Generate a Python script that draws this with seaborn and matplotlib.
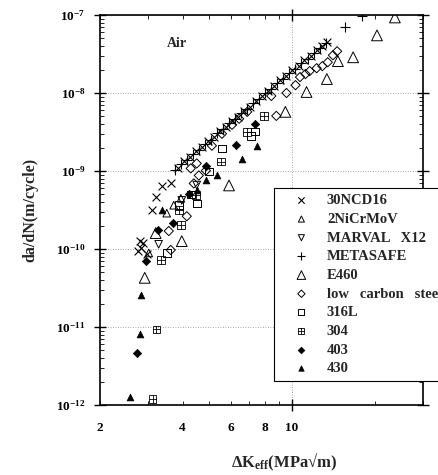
import matplotlib
matplotlib.use("Agg")
import matplotlib.pyplot as plt
import seaborn as sns
import numpy as np
from matplotlib.path import Path
from matplotlib.ticker import FixedLocator, FuncFormatter, LogLocator, LogFormatterSciNotation, NullFormatter

# ---------------- data ----------------
ncd16_x = [2.74, 2.79, 2.83, 2.88, 2.96, 3.08, 3.21, 3.37, 3.62, 3.84, 4.04, 4.25, 4.47, 4.70,
           4.94, 5.20, 5.47, 5.75, 6.05, 6.37, 6.70, 7.04, 7.41, 7.79, 8.20, 8.63, 9.07, 9.55,
           10.0, 10.6, 11.1, 11.7, 12.3, 12.9, 13.4]
ncd16_y = [9.43e-11, 1.26e-10, 1.03e-10, 1.19e-10, 8.63e-11, 3.14e-10, 4.59e-10, 6.35e-10, 6.93e-10,
           1.10e-9, 1.33e-9, 1.50e-9, 1.80e-9, 2.02e-9, 2.42e-9, 2.72e-9, 3.26e-9, 3.68e-9, 4.40e-9,
           4.95e-9, 5.92e-9, 6.70e-9, 7.98e-9, 9.05e-9, 1.07e-8, 1.22e-8, 1.45e-8, 1.64e-8, 1.96e-8,
           2.21e-8, 2.63e-8, 2.98e-8, 3.55e-8, 4.02e-8, 4.55e-8]

nicrmov_x = [3.01, 3.50, 3.71, 3.94]
nicrmov_y = [8.9e-11, 2.88e-10, 3.64e-10, 4.46e-10]

marval_x = [3.27, 3.97, 4.50]
marval_y = [1.15e-10, 4.2e-10, 6.6e-10]

metasafe_x = [3.74, 3.94, 4.14, 4.36, 4.58, 4.82, 5.07, 5.33, 5.61, 5.90, 6.21, 6.53, 6.87, 7.22,
              7.60, 7.99, 8.41, 8.84, 9.30, 9.78, 10.3, 10.8, 11.4, 12.0, 12.6, 13.3, 15.6, 18.0]
metasafe_y = [1.02e-9, 1.24e-9, 1.39e-9, 1.67e-9, 1.87e-9, 2.25e-9, 2.52e-9, 3.03e-9, 3.41e-9,
              4.08e-9, 4.60e-9, 5.50e-9, 6.21e-9, 7.42e-9, 8.38e-9, 9.95e-9, 1.12e-8, 1.34e-8,
              1.52e-8, 1.82e-8, 2.05e-8, 2.45e-8, 2.76e-8, 3.30e-8, 3.72e-8, 4.42e-8, 7.1e-8, 9.6e-8]

e460_x = [2.91, 3.19, 3.97, 5.90, 9.46, 11.3, 13.4, 14.7, 16.7, 20.4, 23.7]
e460_y = [4.27e-11, 1.60e-10, 1.26e-10, 6.53e-10, 5.73e-9, 1.03e-8, 1.51e-8, 2.56e-8, 2.87e-8,
          5.48e-8, 9.3e-8]

lcs_x = [3.56, 3.62, 4.14, 4.28, 4.39, 4.50, 4.58, 4.86, 5.11, 5.56, 6.05, 6.42, 6.87, 8.41, 8.77,
         9.55, 10.3, 10.7, 11.2, 11.6, 12.3, 12.9, 13.5, 14.1, 14.6]
lcs_y = [1.70e-10, 9.71e-11, 2.63e-10, 1.08e-9, 6.93e-10, 1.25e-9, 8.77e-10, 1.01e-9, 2.11e-9,
         3.0e-9, 3.91e-9, 4.67e-9, 5.73e-9, 9.16e-9, 5.09e-9, 1.0e-8, 1.26e-8, 1.60e-8, 1.75e-8,
         1.91e-8, 2.08e-8, 2.21e-8, 2.48e-8, 3.05e-8, 3.43e-8]

s316l_x = [3.50, 3.87, 4.28, 4.50, 4.99, 5.56, 7.10, 7.35]
s316l_y = [8.9e-11, 3.64e-10, 5.02e-10, 3.85e-10, 9.86e-10, 1.94e-9, 2.83e-9, 3.2e-9]

s304_x = [3.11, 3.21, 3.33, 3.94, 3.87, 4.47, 5.52, 6.87, 7.93]
s304_y = [1.19e-12, 9.29e-12, 7.24e-11, 2.02e-10, 3.14e-10, 4.88e-10, 1.32e-9, 3.18e-9, 5.09e-9]

s403_x = [2.72, 2.93, 3.24, 3.68, 4.21, 4.86, 6.26, 7.35]
s403_y = [4.59e-12, 7.03e-11, 1.75e-10, 2.14e-10, 5.02e-10, 1.17e-9, 2.18e-9, 4.03e-9]

s430_x = [2.58, 2.79, 2.83, 3.35, 4.50, 4.86, 5.33, 6.59, 7.47]
s430_y = [1.26e-12, 8.02e-12, 2.59e-11, 3.14e-10, 5.65e-10, 7.57e-10, 8.77e-10, 1.44e-9, 2.11e-9]

x_labels_at = [2, 4, 6, 8]

# ---------------- style ----------------
sns.set_style("ticks")
plt.rcParams["font.family"] = ["Liberation Serif", "DejaVu Serif"]
plt.rcParams["font.weight"] = "bold"
plt.rcParams["axes.labelweight"] = "bold"
plt.rcParams["mathtext.fontset"] = "custom"
plt.rcParams["mathtext.rm"] = "Liberation Serif:bold"
plt.rcParams["mathtext.bf"] = "Liberation Serif:bold"
plt.rcParams["mathtext.it"] = "Liberation Serif:bold"
plt.rcParams["mathtext.default"] = "rm"

fig = plt.figure(figsize=(4.39, 4.75), dpi=100)
ax = fig.add_axes([100 / 439, 1 - 405 / 475, 323 / 439, 390 / 475])

# square-with-cross marker
box_plus = Path(
    [(-1, -1), (1, -1), (1, 1), (-1, 1), (-1, -1), (0, -1), (0, 1), (-1, 0), (1, 0)],
    [Path.MOVETO, Path.LINETO, Path.LINETO, Path.LINETO, Path.CLOSEPOLY,
     Path.MOVETO, Path.LINETO, Path.MOVETO, Path.LINETO])

series = [
    ("30NCD16", ncd16_x, ncd16_y, dict(marker="x", s=32, color="black", linewidth=0.8)),
    ("2NiCrMoV", nicrmov_x, nicrmov_y, dict(marker="^", s=30, facecolor="none", edgecolor="black", linewidth=0.7)),
    ("MARVAL   X12", marval_x, marval_y, dict(marker="v", s=30, facecolor="none", edgecolor="black", linewidth=0.7)),
    ("METASAFE", metasafe_x, metasafe_y, dict(marker="+", s=42, color="black", linewidth=0.8)),
    ("E460", e460_x, e460_y, dict(marker="^", s=60, facecolor="none", edgecolor="black", linewidth=0.7)),
    ("low   carbon   steel", lcs_x, lcs_y, dict(marker="D", s=22, facecolor="none", edgecolor="black", linewidth=0.7)),
    ("316L", s316l_x, s316l_y, dict(marker="s", s=30, facecolor="none", edgecolor="black", linewidth=0.7)),
    ("304", s304_x, s304_y, dict(marker=box_plus, s=30, facecolor="none", edgecolor="black", linewidth=0.6)),
    ("403", s403_x, s403_y, dict(marker="D", s=18, color="black", edgecolor="black", linewidth=0.5)),
    ("430", s430_x, s430_y, dict(marker="^", s=24, color="black", edgecolor="black", linewidth=0.5)),
]

for name, xs, ys, kw in series:
    sns.scatterplot(x=xs, y=ys, ax=ax, label=name, **kw)

ax.set_xscale("log")
ax.set_yscale("log")
ax.set_xlim(2, 30)
ax.set_ylim(1e-12, 1e-7)

# x ticks
ax.xaxis.set_major_locator(FixedLocator([10]))
ax.xaxis.set_major_formatter(FuncFormatter(lambda v, p: "%d" % round(v)))
ax.xaxis.set_minor_locator(FixedLocator([2, 3, 4, 5, 6, 7, 8, 9, 20, 30]))
ax.xaxis.set_minor_formatter(FuncFormatter(lambda v, p: ("%d" % round(v)) if round(v) in x_labels_at else ""))

# y ticks
ax.yaxis.set_major_locator(LogLocator(base=10, numticks=10))
ax.yaxis.set_major_formatter(LogFormatterSciNotation())
ax.yaxis.set_minor_locator(LogLocator(base=10, subs=np.arange(2, 10), numticks=20))
ax.yaxis.set_minor_formatter(NullFormatter())

ax.tick_params(which="both", top=True, right=True, labelsize=9.5, colors="black")
ax.tick_params(which="major", direction="inout", length=9, width=1.0, pad=6)
ax.tick_params(which="minor", direction="in", length=3, width=0.6, pad=6)
ax.tick_params(axis="x", which="major", pad=8)
ax.tick_params(axis="x", which="minor", pad=12)

for sp in ax.spines.values():
    sp.set_linewidth(1.2)
    sp.set_color("black")

ax.grid(True, which="major", linestyle=(0, (1, 2)), color="0.55", linewidth=0.6)

ax.text(0.238, 0.928, "Air", transform=ax.transAxes, ha="center", va="center",
        fontsize=10, fontweight="bold")

ax.set_ylabel("da/dN(m/cycle)", fontsize=11.5, fontweight="bold")
ax.yaxis.set_label_coords(-0.19, 0.5)
ax.set_xlabel("ΔK$_{\\rm eff}$(MPa√m)", fontsize=12, fontweight="bold")
ax.xaxis.set_label_coords(0.57, -0.12)

leg = ax.legend(loc="upper left", bbox_to_anchor=(0.540, 0.556), borderaxespad=0,
                frameon=True, fancybox=False, framealpha=1, edgecolor="black",
                fontsize=10.5, borderpad=0.4, handlelength=2.9, handletextpad=0.3,
                labelspacing=0.375, markerscale=0.8)
leg.get_frame().set_linewidth(0.8)

fig.savefig("out.png", dpi=100)
